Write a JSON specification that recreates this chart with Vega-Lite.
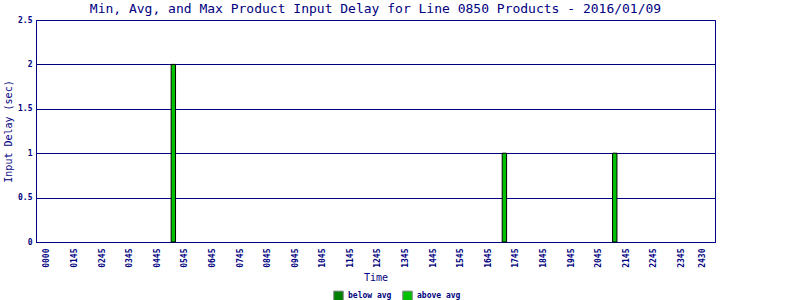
{
  "$schema": "https://vega.github.io/schema/vega-lite/v6.json",
  "autosize": "none",
  "width": 679,
  "height": 222,
  "padding": {"left": 36, "top": 20, "right": 85, "bottom": 58},
  "background": "white",
  "title": {
    "text": "Min, Avg, and Max Product Input Delay for Line 0850 Products - 2016/01/09",
    "font": "DejaVu Sans Mono",
    "fontSize": 13,
    "fontWeight": "normal",
    "color": "#000080",
    "anchor": "middle",
    "offset": 0
  },
  "config": {
    "view": {"stroke": "#000080", "strokeWidth": 1},
    "axis": {
      "domainColor": "#000080",
      "gridColor": "#000080",
      "gridOpacity": 1,
      "ticks": false,
      "labelColor": "#000080",
      "titleColor": "#000080",
      "labelFont": "DejaVu Sans Mono",
      "titleFont": "DejaVu Sans Mono",
      "labelFontSize": 8,
      "labelFontWeight": "bold",
      "titleFontSize": 10,
      "titleFontWeight": "normal"
    }
  },
  "data": {
    "values": [
      {"hour": 5.3333, "delay": 2, "level": "above avg"},
      {"hour": 17.3333, "delay": 1, "level": "above avg"},
      {"hour": 21.3333, "delay": 1, "level": "above avg"}
    ]
  },
  "mark": {"type": "bar", "size": 4.4, "stroke": "black", "strokeWidth": 1},
  "encoding": {
    "x": {
      "field": "hour",
      "type": "quantitative",
      "title": "Time",
      "scale": {"domain": [0.536, 24.786], "nice": false, "zero": false},
      "axis": {
        "grid": false,
        "values": [0.75, 1.75, 2.75, 3.75, 4.75, 5.75, 6.75, 7.75, 8.75, 9.75, 10.75, 11.75, 12.75, 13.75, 14.75, 15.75, 16.75, 17.75, 18.75, 19.75, 20.75, 21.75, 22.75, 23.75, 24.5],
        "labelExpr": "datum.value < 1 ? '0000' : ((floor(datum.value) < 10 ? '0' : '') + floor(datum.value) + (round((datum.value - floor(datum.value)) * 60) < 10 ? '0' : '') + round((datum.value - floor(datum.value)) * 60))",
        "labelAngle": 270,
        "labelPadding": 6,
        "labelOverlap": false,
        "titlePadding": 5
      }
    },
    "y": {
      "field": "delay",
      "type": "quantitative",
      "title": "Input Delay (sec)",
      "scale": {"domain": [0, 2.5], "nice": false},
      "axis": {
        "values": [0, 0.5, 1, 1.5, 2, 2.5],
        "labelExpr": "'' + datum.value",
        "labelPadding": 4,
        "titlePadding": 4
      }
    },
    "color": {
      "field": "level",
      "type": "nominal",
      "scale": {"domain": ["below avg", "above avg"], "range": ["#008000", "#00c000"]},
      "legend": {
        "title": null,
        "orient": "none",
        "direction": "horizontal",
        "legendX": 297,
        "legendY": 270,
        "symbolType": "square",
        "symbolSize": 90,
        "symbolStrokeColor": "#808080",
        "symbolStrokeWidth": 1,
        "symbolOpacity": 1,
        "labelFont": "DejaVu Sans Mono",
        "labelFontSize": 8,
        "labelFontWeight": "bold",
        "labelColor": "#000080",
        "columnPadding": 8
      }
    }
  }
}
